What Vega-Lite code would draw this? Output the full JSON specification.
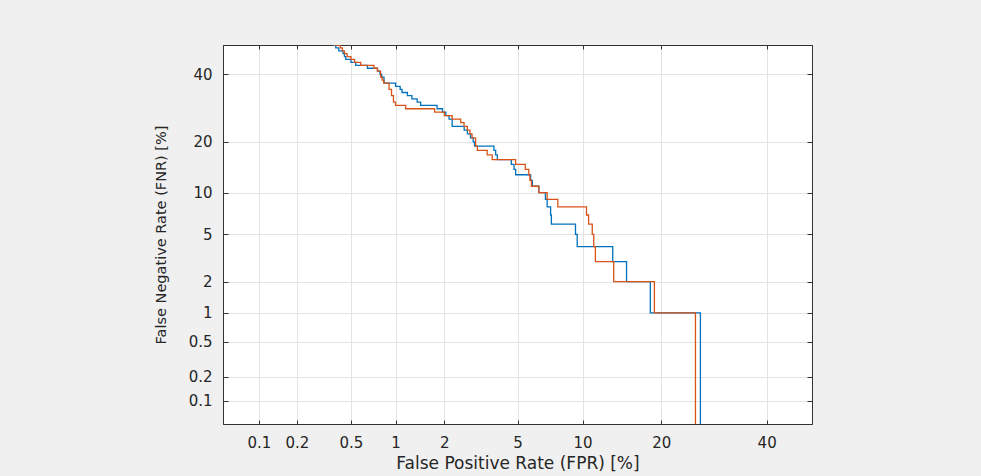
{
  "$schema": "https://vega.github.io/schema/vega-lite/v6.json",
  "width": 589,
  "height": 379,
  "autosize": {"type": "none"},
  "padding": {"left": 223, "top": 45, "right": 169, "bottom": 52},
  "background": "#f0f0f0",
  "config": {"font": "DejaVu Sans", "view": {"fill": "white", "stroke": "#333333"}},
  "datasets": {
    "blue": [{"fpr":0.37,"fnr":50},{"fpr":0.39,"fnr":49},{"fpr":0.41,"fnr":48},{"fpr":0.44,"fnr":47},{"fpr":0.45,"fnr":46},{"fpr":0.46,"fnr":45},{"fpr":0.50,"fnr":44},{"fpr":0.54,"fnr":43},{"fpr":0.65,"fnr":42},{"fpr":0.76,"fnr":41},{"fpr":0.79,"fnr":40},{"fpr":0.81,"fnr":39},{"fpr":0.84,"fnr":37},{"fpr":1.0,"fnr":36},{"fpr":1.07,"fnr":35},{"fpr":1.10,"fnr":34},{"fpr":1.19,"fnr":33},{"fpr":1.27,"fnr":32},{"fpr":1.37,"fnr":31},{"fpr":1.44,"fnr":30},{"fpr":1.81,"fnr":29},{"fpr":1.95,"fnr":28},{"fpr":2.04,"fnr":27},{"fpr":2.13,"fnr":26},{"fpr":2.22,"fnr":24},{"fpr":2.6,"fnr":23},{"fpr":2.71,"fnr":22},{"fpr":2.82,"fnr":21},{"fpr":2.92,"fnr":20},{"fpr":2.97,"fnr":19},{"fpr":3.78,"fnr":18},{"fpr":3.86,"fnr":17},{"fpr":3.94,"fnr":16},{"fpr":4.65,"fnr":15},{"fpr":4.8,"fnr":14},{"fpr":4.89,"fnr":13},{"fpr":5.8,"fnr":12},{"fpr":5.91,"fnr":11},{"fpr":6.35,"fnr":10},{"fpr":6.82,"fnr":9},{"fpr":6.95,"fnr":8},{"fpr":7.21,"fnr":7},{"fpr":7.27,"fnr":6},{"fpr":9.32,"fnr":5},{"fpr":9.48,"fnr":4},{"fpr":13.28,"fnr":3},{"fpr":15.01,"fnr":2},{"fpr":18.32,"fnr":1},{"fpr":26.65,"fnr":0.01}],
    "orange": [{"fpr":0.38,"fnr":50},{"fpr":0.42,"fnr":49},{"fpr":0.435,"fnr":48},{"fpr":0.45,"fnr":47},{"fpr":0.47,"fnr":46},{"fpr":0.50,"fnr":45},{"fpr":0.53,"fnr":44},{"fpr":0.585,"fnr":43},{"fpr":0.72,"fnr":42},{"fpr":0.76,"fnr":41},{"fpr":0.797,"fnr":39},{"fpr":0.816,"fnr":38},{"fpr":0.837,"fnr":37},{"fpr":0.907,"fnr":36},{"fpr":0.907,"fnr":35},{"fpr":0.941,"fnr":33},{"fpr":0.969,"fnr":31},{"fpr":1.0,"fnr":30},{"fpr":1.16,"fnr":29},{"fpr":1.75,"fnr":28},{"fpr":2.0,"fnr":27},{"fpr":2.22,"fnr":26},{"fpr":2.485,"fnr":25},{"fpr":2.595,"fnr":24},{"fpr":2.708,"fnr":23},{"fpr":2.8,"fnr":22},{"fpr":2.876,"fnr":21},{"fpr":3.01,"fnr":19},{"fpr":3.077,"fnr":18},{"fpr":3.48,"fnr":17},{"fpr":3.70,"fnr":16},{"fpr":4.89,"fnr":15},{"fpr":5.46,"fnr":14},{"fpr":5.68,"fnr":13},{"fpr":5.75,"fnr":12},{"fpr":5.85,"fnr":11},{"fpr":6.35,"fnr":10},{"fpr":6.95,"fnr":9},{"fpr":7.78,"fnr":8},{"fpr":10.39,"fnr":7},{"fpr":10.6,"fnr":6},{"fpr":10.98,"fnr":5},{"fpr":11.14,"fnr":4},{"fpr":11.31,"fnr":3},{"fpr":13.4,"fnr":2},{"fpr":18.93,"fnr":1},{"fpr":25.75,"fnr":0.01}]
  },
  "layer": [
    {
      "data": {"name": "blue"},
      "transform": [
        {"calculate": "quantileNormal(datum.fpr/100)", "as": "xp"},
        {"calculate": "quantileNormal(datum.fnr/100)", "as": "yp"}
      ],
      "mark": {"type": "line", "interpolate": "step-after", "color": "#0072BD", "strokeWidth": 1.3, "clip": true},
      "encoding": {
        "x": {
          "field": "xp", "type": "quantitative",
          "scale": {"domain": [-3.2905, 0], "nice": false, "zero": false},
          "axis": {
            "orient": "bottom",
            "values": [-3.0902, -2.8782, -2.5758, -2.3263, -2.0537, -1.6449, -1.2816, -0.8416, -0.2533],
            "labelExpr": "format(cumulativeNormal(datum.value)*100, '.1~r')",
            "grid": true, "gridColor": "#e3e3e3", "gridWidth": 1,
            "tickSize": -4, "tickColor": "#333333", "domainColor": "#333333",
            "labelFontSize": 15, "labelColor": "#262626", "labelPadding": 15.5,
            "labelFlush": false, "labelOverlap": false,
            "title": "False Positive Rate (FPR) [%]", "titleFontSize": 17, "titleFontWeight": "normal",
            "titleColor": "#262626", "titlePadding": 5
          }
        },
        "y": {
          "field": "yp", "type": "quantitative",
          "scale": {"domain": [-3.2905, 0], "nice": false, "zero": false},
          "axis": {
            "orient": "left",
            "values": [-3.0902, -2.8782, -2.5758, -2.3263, -2.0537, -1.6449, -1.2816, -0.8416, -0.2533],
            "labelExpr": "format(cumulativeNormal(datum.value)*100, '.1~r')",
            "grid": true, "gridColor": "#e3e3e3", "gridWidth": 1,
            "tickSize": -5, "tickColor": "#333333", "domainColor": "#333333",
            "labelFontSize": 15, "labelColor": "#262626", "labelPadding": 16,
            "labelFlush": false, "labelOverlap": false,
            "title": "False Negative Rate (FNR) [%]", "titleFontSize": 14.5, "titleFontWeight": "normal",
            "titleColor": "#262626", "titlePadding": 20
          }
        },
        "order": {"value": null}
      }
    },
    {
      "data": {"name": "orange"},
      "transform": [
        {"calculate": "quantileNormal(datum.fpr/100)", "as": "xp"},
        {"calculate": "quantileNormal(datum.fnr/100)", "as": "yp"}
      ],
      "mark": {"type": "line", "interpolate": "step-after", "color": "#D95319", "strokeWidth": 1.3, "clip": true},
      "encoding": {
        "x": {
          "field": "xp", "type": "quantitative",
          "scale": {"domain": [-3.2905, 0], "nice": false, "zero": false},
          "axis": {
            "orient": "top",
            "values": [-3.0902, -2.8782, -2.5758, -2.3263, -2.0537, -1.6449, -1.2816, -0.8416, -0.2533],
            "labels": false, "grid": false, "title": null,
            "tickSize": -4, "tickColor": "#333333", "domainColor": "#333333"
          }
        },
        "y": {
          "field": "yp", "type": "quantitative",
          "scale": {"domain": [-3.2905, 0], "nice": false, "zero": false},
          "axis": {
            "orient": "right",
            "values": [-3.0902, -2.8782, -2.5758, -2.3263, -2.0537, -1.6449, -1.2816, -0.8416, -0.2533],
            "labels": false, "grid": false, "title": null,
            "tickSize": -5, "tickColor": "#333333", "domainColor": "#333333"
          }
        },
        "order": {"value": null}
      }
    }
  ],
  "resolve": {"axis": {"x": "independent", "y": "independent"}}
}
